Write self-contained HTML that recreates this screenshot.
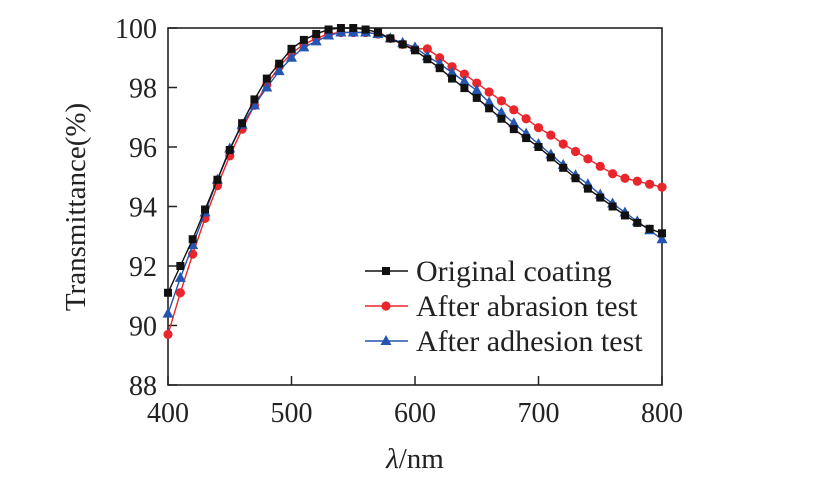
<!DOCTYPE html>
<html><head><meta charset="utf-8"><style>
body{margin:0;background:#fff}
svg{display:block}
text{font-family:"Liberation Serif","Times New Roman",serif}
</style></head><body>
<svg id="chart" width="819" height="478" viewBox="0 0 819 478" xmlns="http://www.w3.org/2000/svg" font-family="Liberation Serif, serif"></svg>
<script>
const wavelengths=[400,410,420,430,440,450,460,470,480,490,500,510,520,530,540,550,560,570,580,590,600,610,620,630,640,650,660,670,680,690,700,710,720,730,740,750,760,770,780,790,800];
const originalCoating=[91.1,92.0,92.9,93.9,94.9,95.9,96.8,97.6,98.3,98.8,99.3,99.6,99.8,99.95,100,100,99.95,99.85,99.65,99.45,99.25,98.95,98.65,98.3,97.98,97.65,97.3,96.95,96.6,96.3,96.0,95.65,95.3,94.95,94.6,94.3,94.0,93.7,93.45,93.25,93.1];
const afterAbrasion=[89.7,91.1,92.4,93.6,94.7,95.7,96.6,97.4,98.1,98.7,99.15,99.45,99.65,99.8,99.85,99.85,99.85,99.8,99.65,99.45,99.3,99.3,99.0,98.7,98.45,98.15,97.85,97.55,97.25,96.95,96.65,96.4,96.1,95.85,95.6,95.35,95.1,94.95,94.85,94.75,94.65];
const afterAdhesion=[90.4,91.6,92.7,93.8,94.9,95.95,96.75,97.4,98.0,98.55,99.0,99.35,99.55,99.75,99.85,99.85,99.85,99.8,99.65,99.5,99.35,99.05,98.8,98.5,98.2,97.9,97.5,97.15,96.8,96.45,96.1,95.75,95.4,95.05,94.75,94.4,94.1,93.8,93.5,93.2,92.9];
const xTicks=[400,500,600,700,800];
const yTicks=[88,90,92,94,96,98,100];
const seriesNames=["Original coating","After abrasion test","After adhesion test"];

const svg=document.getElementById('chart');
const NS='http://www.w3.org/2000/svg';
const L=168,R=662,T=28,B=385;
const xs=v=>L+(v-400)/400*(R-L);
const ys=v=>B-(v-88)/12*(B-T);
function mk(tag,attrs,parent){const e=document.createElementNS(NS,tag);for(const k in attrs)e.setAttribute(k,attrs[k]);(parent||svg).appendChild(e);return e;}

const frame=mk('rect',{x:L,y:T,width:R-L,height:B-T,fill:'none',stroke:'#222','stroke-width':1.6});



xTicks.forEach(t=>{
  const ln=mk('line',{x1:xs(t),x2:xs(t),y1:B,y2:B-9,stroke:'#222','stroke-width':1.5});
  
  
  const tx=mk('text',{x:xs(t),y:422,'font-size':28,'text-anchor':'middle',fill:'#222'});
  tx.textContent=t;
  
  
});
yTicks.forEach(t=>{
  const ln=mk('line',{x1:L,x2:L+9,y1:ys(t),y2:ys(t),stroke:'#222','stroke-width':1.5});
  
  
  const tx=mk('text',{x:157,y:ys(t)+10,'font-size':28,'text-anchor':'end',fill:'#222'});
  tx.textContent=t;
  
  
});

const yt=mk('text',{x:0,y:0,'font-size':29,'text-anchor':'middle',fill:'#222',transform:'translate(85,207) rotate(-90)'});
yt.textContent='Transmittance(%)';


const xt=mk('text',{x:415,y:468,'font-size':29,'text-anchor':'middle',fill:'#222'});
xt.innerHTML='<tspan font-style="italic">λ</tspan>/nm';



function marker(kind,x,y,color,g){
  let e;
  if(kind==='square')e=mk('rect',{x:x-4,y:y-4,width:8,height:8,fill:color},g);
  else if(kind==='circle')e=mk('circle',{cx:x,cy:y,r:4.6,fill:color},g);
  else e=mk('polygon',{points:`${x},${y-6} ${x-5.5},${y+4} ${x+5.5},${y+4}`,fill:color},g);
  return e;
}
const series=[[originalCoating,'#111','square','series-original'],[afterAbrasion,'#e8262b','circle','series-abrasion'],[afterAdhesion,'#2455b0','triangle','series-adhesion']];
const order=[1,2,0];
order.forEach(i=>{
  const [vals,color,kind,name]=series[i];
  const g=mk('g',{});
  
  
  const pts=vals.map((v,j)=>xs(wavelengths[j])+','+ys(v)).join(' ');
  const pl=mk('polyline',{points:pts,fill:'none',stroke:color,'stroke-width':1.4},g);
  
  
  vals.forEach((v,j)=>{
    const m=marker(kind,xs(wavelengths[j]),ys(v),color,g);
    
    
  });
});

const lg=mk('g',{});


series.forEach((s,i)=>{
  const y=271+i*35;
  const ln=mk('line',{x1:365,x2:408,y1:y,y2:y,stroke:s[1],'stroke-width':1.4},lg);
  
  
  const m=marker(s[2],386,y,s[1],lg);
  
  
  const tx=mk('text',{x:416,y:y+10,'font-size':30,fill:'#222'},lg);
  tx.textContent=seriesNames[i];
  
  
});
</script>
</body></html>
